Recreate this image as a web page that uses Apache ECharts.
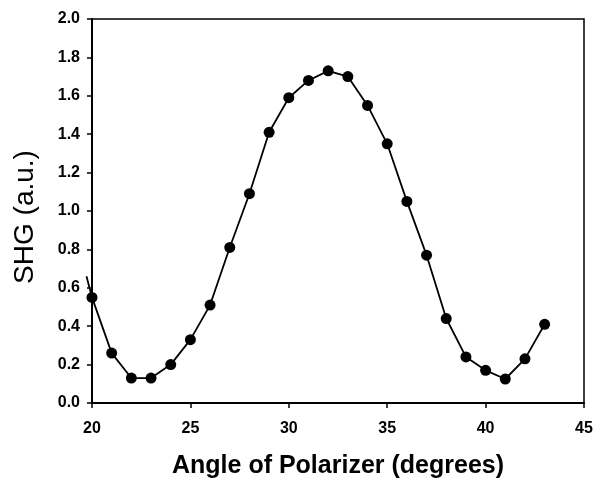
<!DOCTYPE html>
<html>
<head>
<meta charset="utf-8">
<script src="https://cdn.jsdelivr.net/npm/echarts@6/dist/echarts.min.js"></script>
<style>
  html, body { margin: 0; padding: 0; background: #fff; }
  #chart { width: 595px; height: 480px; }
</style>
</head>
<body>
<div id="chart"></div>
<script>
// polarizer angle (degrees) and measured SHG (a.u.)
var angles = [20, 21, 22, 23, 24, 25, 26, 27, 28, 29, 30, 31, 32, 33, 34, 35, 36, 37, 38, 39, 40, 41, 42, 43];
var shg = [0.55, 0.26, 0.13, 0.13, 0.20, 0.33, 0.51, 0.81, 1.09, 1.41, 1.59, 1.68, 1.73, 1.70, 1.55, 1.35, 1.05, 0.77, 0.44, 0.24, 0.17, 0.125, 0.23, 0.41];
// the fitted curve starts a little left of the first point
var leadAngle = [19.72];
var leadShg = [0.66];
var xTicks = [20, 25, 30, 35, 40, 45];

var chart = echarts.init(document.getElementById('chart'));

var points = angles.map(function (a, i) { return [a, shg[i]]; });
var lead = leadAngle.map(function (a, i) { return [a, leadShg[i]]; }).concat([points[0]]);

var tickFont = {
    color: '#000',
    fontFamily: 'Liberation Sans, Arial, sans-serif',
    fontWeight: 'bold',
    fontSize: 16
};

chart.setOption({
    animation: false,
    grid: {
        left: 92, right: 11, top: 19, bottom: 77,
        outerBoundsMode: 'none',
        show: true,
        borderColor: '#000',
        borderWidth: 1.5
    },
    xAxis: {
        type: 'value',
        min: xTicks[0],
        max: xTicks[xTicks.length - 1],
        interval: 5,
        name: 'Angle of Polarizer (degrees)',
        nameLocation: 'middle',
        nameGap: 51,
        nameTextStyle: {
            color: '#000',
            fontFamily: 'Liberation Sans, Arial, sans-serif',
            fontWeight: 'bold',
            fontSize: 25
        },
        axisLine: { lineStyle: { color: '#000', width: 2 } },
        axisTick: { inside: false, length: 5, lineStyle: { color: '#000', width: 1.5 } },
        axisLabel: Object.assign({ margin: 18 }, tickFont),
        splitLine: { show: false }
    },
    yAxis: {
        type: 'value',
        min: 0,
        max: 2,
        interval: 0.2,
        name: 'SHG (a.u.)',
        nameLocation: 'middle',
        nameGap: 53,
        nameTextStyle: {
            color: '#000',
            fontFamily: 'Liberation Sans, Arial, sans-serif',
            fontSize: 28,
            padding: [0, 12, 0, 0]
        },
        axisLine: { show: true, lineStyle: { color: '#000', width: 2 } },
        axisTick: { show: true, inside: false, length: 5, lineStyle: { color: '#000', width: 1.5 } },
        axisLabel: Object.assign({
            margin: 12,
            formatter: function (v) { return v.toFixed(1); }
        }, tickFont),
        splitLine: { show: false }
    },
    series: [{
        // short piece of the curve that runs past the left axis
        type: 'custom',
        clip: false,
        data: lead,
        renderItem: function (params, api) {
            if (params.dataIndex !== 0) return;
            var pts = lead.map(function (d) { return api.coord(d); });
            return {
                type: 'polyline',
                shape: { points: pts },
                style: { stroke: '#000', lineWidth: 1.8, fill: null }
            };
        }
    }, {
        type: 'line',
        data: points,
        symbol: 'circle',
        symbolSize: 11,
        itemStyle: { color: '#000' },
        lineStyle: { color: '#000', width: 1.8 }
    }]
});
</script>
</body>
</html>
